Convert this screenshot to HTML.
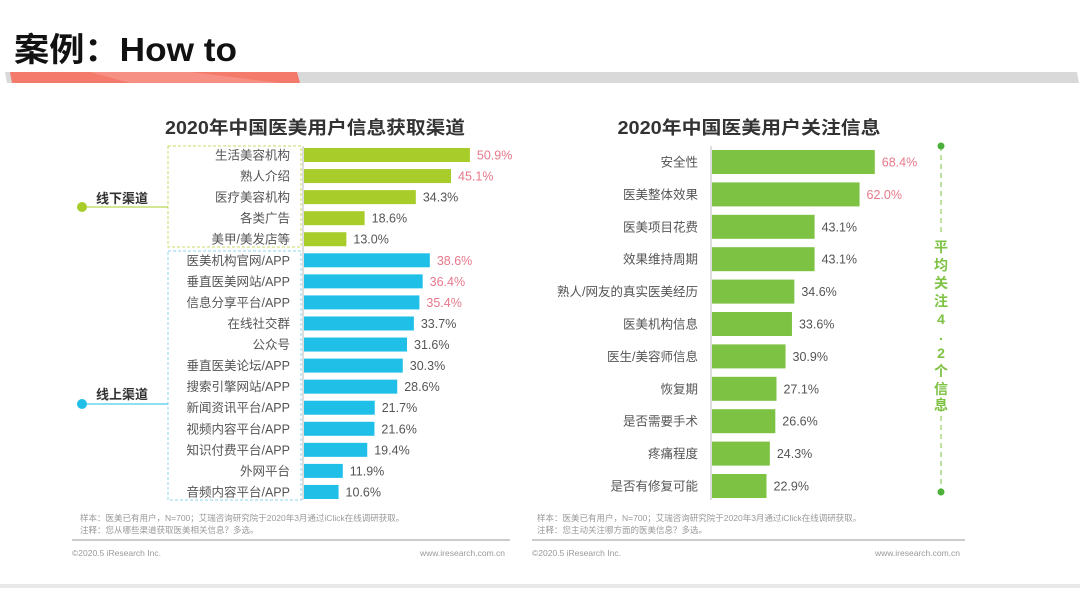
<!DOCTYPE html>
<html><head><meta charset="utf-8"><style>
body{margin:0;width:1080px;height:588px;background:#fff;overflow:hidden;font-family:"Liberation Sans","Noto Sans CJK SC",sans-serif}
svg text{font-family:"Liberation Sans","Noto Sans CJK SC",sans-serif}
</style></head><body>
<svg width="1080" height="588" viewBox="0 0 1080 588">
<text x="14" y="61" font-size="33" font-weight="bold" fill="#111" textLength="223" lengthAdjust="spacingAndGlyphs">案例：How to</text>
<polygon points="5,72 1077,72 1079,83 7,83" fill="#d9d9d9"/>
<polygon points="10,72 297,72 300,83 12,83" fill="#f47a6c"/>
<polygon points="90,72 190,72 280,83 130,83" fill="#f89a8e" opacity="0.7"/>
<text x="315" y="134" font-size="18" font-weight="bold" fill="#333" text-anchor="middle" textLength="300" lengthAdjust="spacingAndGlyphs">2020年中国医美用户信息获取渠道</text>
<text x="749" y="134" font-size="18" font-weight="bold" fill="#333" text-anchor="middle" textLength="263" lengthAdjust="spacingAndGlyphs">2020年中国医美用户关注信息</text>
<rect x="168" y="146" width="133" height="101" fill="none" stroke="#c9dc6a" stroke-dasharray="3,2"/>
<rect x="168" y="251" width="133" height="249" fill="none" stroke="#8fd6ef" stroke-dasharray="3,2"/>
<line x1="82" y1="207" x2="168" y2="207" stroke="#a8cc2a"/>
<circle cx="82" cy="207" r="5" fill="#a8cc2a"/>
<text x="96" y="203" font-size="13" font-weight="bold" fill="#333">线下渠道</text>
<line x1="82" y1="404" x2="168" y2="404" stroke="#1fbfe8"/>
<circle cx="82" cy="404" r="5" fill="#1fbfe8"/>
<text x="96" y="399" font-size="13" font-weight="bold" fill="#333">线上渠道</text>
<line x1="303" y1="146" x2="303" y2="500" stroke="#bbb"/>
<line x1="711" y1="146" x2="711" y2="500" stroke="#bbb"/>
<g id="left"></g>
<g id="right"></g>
<line x1="941" y1="146" x2="941" y2="492" stroke="#7dc242" stroke-dasharray="5,4"/>
<circle cx="941" cy="146" r="3.5" fill="#4caf3a"/><circle cx="941" cy="492" r="3.5" fill="#4caf3a"/>
<rect x="930" y="236" width="22" height="172" fill="#fff"/>
<text font-size="14" font-weight="bold" fill="#7dc242" text-anchor="middle">
<tspan x="941" y="252">平</tspan><tspan x="941" y="270">均</tspan><tspan x="941" y="288">关</tspan><tspan x="941" y="306">注</tspan><tspan x="941" y="324">4</tspan><tspan x="941" y="340">.</tspan><tspan x="941" y="358">2</tspan><tspan x="941" y="376">个</tspan><tspan x="941" y="394">信</tspan><tspan x="941" y="410">息</tspan></text>
<g font-size="8.5" fill="#999">
<text x="80" y="521">样本：医美已有用户，N=700；艾瑞咨询研究院于2020年3月通过iClick在线调研获取。</text>
<text x="80" y="533">注释：您从哪些渠道获取医美相关信息？多选。</text>
<line x1="72" y1="540" x2="510" y2="540" stroke="#999"/>
<text x="72" y="556">©2020.5 iResearch Inc.</text>
<text x="505" y="556" text-anchor="end">www.iresearch.com.cn</text>
<text x="537" y="521">样本：医美已有用户，N=700；艾瑞咨询研究院于2020年3月通过iClick在线调研获取。</text>
<text x="537" y="533">注释：您主动关注哪方面的医美信息？多选。</text>
<line x1="532" y1="540" x2="965" y2="540" stroke="#999"/>
<text x="532" y="556">©2020.5 iResearch Inc.</text>
<text x="960" y="556" text-anchor="end">www.iresearch.com.cn</text>
</g>
<rect x="0" y="584" width="1080" height="4" fill="#e8e8e8"/>
</svg>
<script>
const leftCats=["生活美容机构","熟人介绍","医疗美容机构","各类广告","美甲/美发店等","医美机构官网/APP","垂直医美网站/APP","信息分享平台/APP","在线社交群","公众号","垂直医美论坛/APP","搜索引擎网站/APP","新闻资讯平台/APP","视频内容平台/APP","知识付费平台/APP","外网平台","音频内容平台/APP"];
const leftVals=[50.9,45.1,34.3,18.6,13.0,38.6,36.4,35.4,33.7,31.6,30.3,28.6,21.7,21.6,19.4,11.9,10.6];
const leftHighlight=[1,1,0,0,0,1,1,1,0,0,0,0,0,0,0,0,0];
const rightCats=["安全性","医美整体效果","医美项目花费","效果维持周期","熟人/网友的真实医美经历","医美机构信息","医生/美容师信息","恢复期","是否需要手术","疼痛程度","是否有修复可能"];
const rightVals=[68.4,62.0,43.1,43.1,34.6,33.6,30.9,27.1,26.6,24.3,22.9];
const rightHighlight=[1,1,0,0,0,0,0,0,0,0,0];
const NS="http://www.w3.org/2000/svg";
function mk(p,t,a,txt){const e=document.createElementNS(NS,t);for(const k in a)e.setAttribute(k,a[k]);if(txt!=null)e.textContent=txt;p.appendChild(e);return e;}
function draw(g,cats,vals,hl,o){
 const x=v=>o.x0+v*o.k, y=i=>o.y0+i*o.step;
 cats.forEach((c,i)=>{
  const col=o.color(i);
  const b=mk(g,'rect',{x:o.x0+1,y:y(i)-o.h/2,width:x(vals[i])-o.x0,height:o.h,fill:col});
  
  
  const l=mk(g,'text',{x:o.lx,y:y(i)+4.5,'font-size':o.fs,fill:'#555','text-anchor':'end'},c);
  
  
  const v=mk(g,'text',{x:x(vals[i])+8,y:y(i)+4.5,'font-size':o.fs,fill:hl[i]?'#e8788a':'#555'},vals[i].toFixed(1)+'%');
  
  
 });
}
draw(document.getElementById('left'),leftCats,leftVals,leftHighlight,{x0:303,k:3.26,y0:155,step:21.06,h:14,lx:290,fs:12.5,color:i=>i<5?'#a8cc2a':'#1fbfe8'});
draw(document.getElementById('right'),rightCats,rightVals,rightHighlight,{x0:711,k:2.38,y0:162,step:32.4,h:24,lx:698,fs:12.5,color:i=>'#7dc242'});
</script>
</body></html>
